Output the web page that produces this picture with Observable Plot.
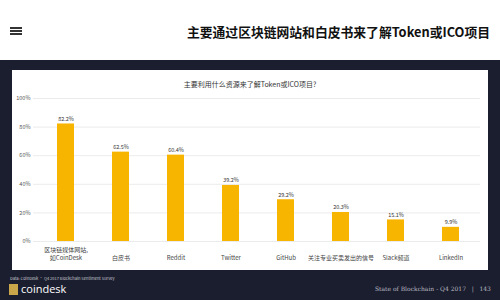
<!DOCTYPE html>
<html><head><meta charset="utf-8">
<script src="https://cdn.jsdelivr.net/npm/d3@7"></script>
<script src="https://cdn.jsdelivr.net/npm/@observablehq/plot@0.6"></script>
<style>
html,body{margin:0;padding:0;}
body{width:500px;height:300px;overflow:hidden;position:relative;background:#1b1e2f;font-family:"Noto Sans CJK SC","Noto Sans",sans-serif;}
#header{position:absolute;left:0;top:0;width:500px;height:60px;background:#fff;}
#burger{position:absolute;left:10px;top:27px;width:12px;height:8px;border-top:2px solid #333;border-bottom:2px solid #333;box-sizing:border-box;}
#burger:after{content:"";position:absolute;left:0;top:1px;width:12px;height:2px;background:#333;}
#pagetitle{position:absolute;right:10px;top:22px;font-size:12.8px;font-weight:bold;color:#111;white-space:nowrap;line-height:20px;}
#card{position:absolute;left:12px;top:70px;width:476px;height:200px;background:#fff;}
#cardtitle{position:absolute;left:0;top:9px;width:476px;text-align:center;font-size:7px;color:#333;line-height:10px;}
#chart{position:absolute;left:0;top:0;}
#source{position:absolute;left:10px;top:275px;font-size:4px;color:#c8c8d0;white-space:nowrap;}
#logo{position:absolute;left:9px;top:284px;width:9px;height:11px;background:#c9a64a;}
#logotext{position:absolute;left:21px;top:281px;font-size:11px;color:#fff;font-family:"Open Sans",sans-serif;line-height:16px;}
#footer{position:absolute;left:375px;top:285px;font-size:6px;color:#b8b8c0;font-family:"DejaVu Serif","Liberation Serif",serif;white-space:nowrap;}
</style>
</head><body>
<div id="header"><div id="burger"></div><div id="pagetitle">主要通过区块链网站和白皮书来了解Token或ICO项目</div></div>
<div id="card"><div id="chart"></div><div id="cardtitle">主要利用什么资源来了解Token或ICO项目?</div></div>
<div id="source">Data: CoinDesk · Q4 2017 Blockchain Sentiment Survey</div>
<div id="logo"></div><div id="logotext">coindesk</div>
<div id="footer">State of Blockchain - Q4 2017 &nbsp;&nbsp;|&nbsp;&nbsp; 143</div>
<script>
const categories = ["区块链媒体网站,\n如CoinDesk","白皮书","Reddit","Twitter","GitHub","关注专业买卖发出的信号","Slack频道","LinkedIn"];
const values = [82.2,62.5,60.4,39.2,29.2,20.3,15.1,9.9];
const valueLabels = ["82.2%","62.5%","60.4%","39.2%","29.2%","20.3%","15.1%","9.9%"];
const yTicks = [0,20,40,60,80,100];
const yTickLabels = ["0%","20%","40%","60%","80%","100%"];

const data = categories.map((c,i)=>({category:c, value:values[i], label:valueLabels[i]}));
const ticks = yTicks.map((t,i)=>({v:t, label:yTickLabels[i]}));

const chart = Plot.plot({
  width:476, height:200,
  marginLeft:21, marginRight:4, marginTop:28, marginBottom:29,
  x:{type:"band", domain:categories, paddingInner:0.69, paddingOuter:0.395, axis:null},
  y:{domain:[0,100], axis:null},
  style:{fontFamily:'"Noto Sans CJK SC","Noto Sans",sans-serif', background:"transparent", overflow:"visible"},
  marks:[
    Plot.ruleY(ticks,{y:"v", stroke:"#e6e6e6", strokeWidth:0.8, insetRight:4}),
    Plot.text(ticks,{y:"v", text:"label", frameAnchor:"left", dx:-3, textAnchor:"end", fontSize:5.5, fill:"#555"}),
    Plot.barY(data,{x:"category", y:"value", fill:"#f8b500"}),
    Plot.text(data,{x:"category", y:"value", text:"label", dy:-3, lineAnchor:"bottom", fontSize:5.5, fill:"#333"}),
    Plot.text(data,{x:"category", text:"category", frameAnchor:"bottom", dy:18, lineAnchor:"bottom", fontSize:6, fill:"#444", lineHeight:1.3})
  ]
});
document.getElementById("chart").appendChild(chart);
</script>
</body></html>
